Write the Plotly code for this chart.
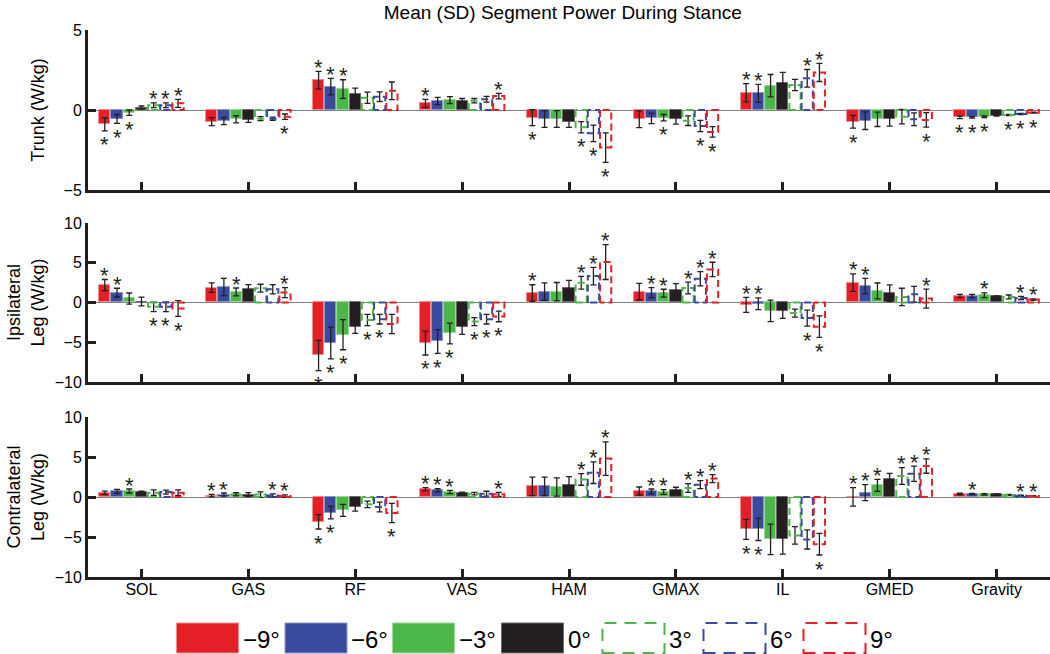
import plotly.graph_objects as go
from plotly.subplots import make_subplots

# ---------------- data ----------------
MUSCLES = ["SOL", "GAS", "RF", "VAS", "HAM", "GMAX", "IL", "GMED", "Gravity"]
ANGLES = ["−9°", "−6°", "−3°", "0°", "3°", "6°", "9°"]

# rows: -9, -6, -3, 0, 3, 6, 9 deg ; columns follow MUSCLES
TRUNK_MEAN = [
    [-0.90, -0.73, 1.87, 0.42, -0.48, -0.58, 1.08, -0.73, -0.46],
    [-0.56, -0.69, 1.46, 0.56, -0.56, -0.52, 1.04, -0.67, -0.46],
    [-0.17, -0.58, 1.31, 0.62, -0.56, -0.48, 1.52, -0.58, -0.42],
    [0.15, -0.62, 1.00, 0.58, -0.73, -0.58, 1.67, -0.56, -0.35],
    [0.30, -0.54, 0.77, 0.58, -1.08, -0.67, 1.56, -0.42, -0.31],
    [0.30, -0.54, 0.83, 0.67, -1.46, -1.00, 1.98, -0.58, -0.25],
    [0.42, -0.42, 1.20, 0.87, -2.35, -1.37, 2.35, -0.62, -0.17],
]
TRUNK_SD = [
    [0.40, 0.25, 0.55, 0.25, 0.50, 0.52, 0.57, 0.40, 0.08],
    [0.28, 0.23, 0.52, 0.23, 0.52, 0.33, 0.56, 0.55, 0.05],
    [0.17, 0.22, 0.58, 0.22, 0.52, 0.20, 0.70, 0.45, 0.05],
    [0.10, 0.15, 0.37, 0.14, 0.36, 0.30, 0.68, 0.45, 0.03],
    [0.15, 0.12, 0.35, 0.14, 0.35, 0.30, 0.35, 0.45, 0.04],
    [0.15, 0.10, 0.30, 0.18, 0.52, 0.35, 0.55, 0.40, 0.04],
    [0.25, 0.17, 0.55, 0.17, 0.92, 0.33, 0.57, 0.45, 0.03],
]
# 1 = asterisk above the error bar, -1 = below, 0 = none
TRUNK_SIG = [
    [-1, 0, 1, 1, -1, 0, 1, -1, -1],
    [-1, 0, 1, 0, 0, 0, 1, 0, -1],
    [-1, 0, 1, 0, 0, -1, 0, 0, -1],
    [0, 0, 0, 0, 0, 0, 0, 0, 0],
    [1, 0, 0, 0, -1, 0, 0, 0, -1],
    [1, 0, 0, 0, -1, -1, 1, 0, -1],
    [1, -1, 0, 1, -1, -1, 1, -1, -1],
]

IPSI_MEAN = [
    [2.20, 1.87, -6.67, -5.10, 1.20, 1.37, -0.30, 2.50, 0.83],
    [1.25, 1.96, -5.10, -4.90, 1.37, 1.25, -0.15, 2.08, 0.83],
    [0.50, 1.33, -4.04, -3.90, 1.37, 1.17, -1.04, 1.46, 0.92],
    [0.12, 1.75, -3.04, -3.10, 1.80, 1.54, -1.10, 1.17, 0.75],
    [-0.54, 1.80, -2.20, -2.40, 2.50, 1.83, -1.33, 0.70, 0.70],
    [-0.54, 1.67, -2.10, -2.10, 3.33, 3.00, -1.96, 1.04, 0.58],
    [-0.75, 1.25, -2.70, -1.75, 5.10, 4.17, -3.04, 0.50, 0.37],
]
IPSI_SD = [
    [0.70, 0.60, 1.90, 1.50, 1.04, 1.05, 0.95, 1.10, 0.20],
    [0.55, 1.08, 2.00, 1.50, 1.10, 0.62, 0.73, 0.95, 0.20],
    [0.70, 0.50, 1.90, 1.30, 1.15, 0.50, 1.35, 1.00, 0.30],
    [0.55, 0.50, 0.85, 0.90, 1.00, 0.83, 0.90, 1.05, 0.10],
    [0.60, 0.50, 0.70, 0.50, 0.80, 0.73, 0.50, 1.10, 0.25],
    [0.60, 0.58, 0.60, 0.60, 1.10, 0.90, 1.00, 1.00, 0.20],
    [1.00, 0.62, 1.20, 0.67, 2.20, 0.90, 1.35, 1.20, 0.10],
]
IPSI_SIG = [
    [1, 0, -1, -1, 1, 0, 1, 1, 0],
    [1, 0, -1, -1, 0, 1, 1, 1, 0],
    [0, 1, -1, -1, 0, 1, 0, 0, 1],
    [0, 0, 0, 0, 0, 0, 0, 0, 0],
    [-1, 0, -1, -1, 1, 1, 0, 0, 0],
    [-1, 0, -1, -1, 1, 1, -1, 0, 1],
    [-1, 1, 0, -1, 1, 1, -1, 1, 1],
]

CONTRA_MEAN = [
    [0.54, 0.17, -3.10, 0.96, 1.33, 0.75, -4.04, 0.02, 0.37],
    [0.70, 0.30, -1.96, 0.83, 1.33, 0.70, -4.04, 0.54, 0.37],
    [0.75, 0.33, -1.67, 0.62, 1.25, 0.62, -5.30, 1.46, 0.33],
    [0.62, 0.30, -1.25, 0.50, 1.54, 0.92, -5.30, 2.20, 0.33],
    [0.54, 0.30, -0.92, 0.42, 2.20, 1.12, -4.80, 2.62, 0.25],
    [0.62, 0.20, -1.25, 0.42, 3.04, 1.54, -5.30, 2.90, 0.17],
    [0.54, 0.12, -2.00, 0.33, 4.80, 2.30, -5.90, 3.87, 0.12],
]
CONTRA_SD = [
    [0.20, 0.15, 0.90, 0.20, 1.15, 0.50, 1.25, 1.15, 0.10],
    [0.25, 0.20, 0.78, 0.20, 1.15, 0.30, 1.40, 1.00, 0.08],
    [0.25, 0.20, 0.75, 0.20, 1.15, 0.30, 1.90, 0.75, 0.10],
    [0.10, 0.25, 0.52, 0.10, 1.00, 0.30, 1.85, 0.75, 0.05],
    [0.35, 0.35, 0.40, 0.15, 0.73, 0.55, 1.10, 1.04, 0.08],
    [0.25, 0.20, 0.60, 0.30, 1.35, 0.50, 1.20, 0.95, 0.05],
    [0.35, 0.15, 1.20, 0.25, 2.10, 0.50, 1.35, 0.90, 0.05],
]
CONTRA_SIG = [
    [0, 1, -1, 1, 0, 0, -1, 1, 0],
    [0, 1, -1, 1, 0, 1, -1, 1, 1],
    [1, 0, 0, 1, 0, 1, 0, 1, 0],
    [0, 0, 0, 0, 0, 0, 0, 0, 0],
    [0, 0, 0, 0, 1, 1, 0, 1, 0],
    [0, 1, 0, 0, 1, 1, 0, 1, 1],
    [0, 1, -1, 1, 1, 1, -1, 1, 1],
]

PANEL_TITLES = ["Trunk (W/kg)", "Ipsilateral<br>Leg (W/kg)", "Contralateral<br>Leg (W/kg)"]
TITLE_STANDOFF = [15, 6, 6]
Y_RANGES = [[-5, 5], [-10, 10], [-10, 10]]
Y_TICKS = [[-5, 0, 5], [-10, -5, 0, 5, 10], [-10, -5, 0, 5, 10]]

# ---------------- style ----------------
COLORS = ["#E41F26", "#3A4A9F", "#4CB748", "#231F20", "#4CB748", "#3A4A9F", "#E41F26"]
EDGE = ["#F08C90", "#8C96C8", "#9AD896", "#6E6A6B"]
FILLED = [True, True, True, True, False, False, False]
FONT = "Liberation Sans, Arial, Helvetica, sans-serif"
SLOT = 0.8 / 7
BAR_W = 0.105
DASH = "7px,4px"
STAR_SHIFT_UP = 4
STAR_SHIFT_DOWN = -14

panels = [
    (TRUNK_MEAN, TRUNK_SD, TRUNK_SIG),
    (IPSI_MEAN, IPSI_SD, IPSI_SIG),
    (CONTRA_MEAN, CONTRA_SD, CONTRA_SIG),
]

fig = make_subplots(rows=3, cols=1)
annotations = []

for r, (mean, sd, sig) in enumerate(panels, start=1):
    yref = "y" if r == 1 else f"y{r}"
    xref = "x" if r == 1 else f"x{r}"
    for k in range(7):
        xs = [i + 1 + (k - 3) * SLOT for i in range(len(MUSCLES))]
        fig.add_trace(go.Bar(
            x=xs, y=mean[k], width=BAR_W,
            marker=dict(color=COLORS[k] if FILLED[k] else "rgba(0,0,0,0)",
                        line=dict(color=EDGE[k] if FILLED[k] else "rgba(0,0,0,0)", width=1)),
            error_y=dict(type="data", array=sd[k], color="#231F20", thickness=1.3, width=3),
            showlegend=False, hoverinfo="skip",
        ), row=r, col=1)
        if not FILLED[k]:
            ox, oy = [], []
            for x, v in zip(xs, mean[k]):
                x0, x1 = x - BAR_W / 2, x + BAR_W / 2
                ox += [x0, x0, x1, x1, x0, None]
                oy += [0, v, v, 0, 0, None]
            fig.add_trace(go.Scatter(
                x=ox, y=oy, mode="lines",
                line=dict(color=COLORS[k], width=2, dash=DASH),
                showlegend=False, hoverinfo="skip",
            ), row=r, col=1)
        for x, v, s, g in zip(xs, mean[k], sd[k], sig[k]):
            if g != 0:
                annotations.append(dict(
                    x=x, y=v + g * s, xref=xref, yref=yref, text="*", showarrow=False,
                    xanchor="center", yanchor="middle",
                    yshift=STAR_SHIFT_UP if g > 0 else STAR_SHIFT_DOWN,
                    font=dict(family=FONT, size=22, color="#231F20"),
                ))

domains = [[0.7075, 1.0], [0.3565, 0.647], [0.0, 0.2925]]
axis_common = dict(
    showline=True, linewidth=3, linecolor="#231F20",
    ticks="inside", ticklen=8, tickwidth=3, tickcolor="#231F20",
    showgrid=False, automargin=False,
    tickfont=dict(family=FONT, size=16, color="black"),
)
for r in range(1, 4):
    fig.update_xaxes(
        range=[0.5, 9.5], tickmode="array", tickvals=list(range(1, 10)),
        ticktext=MUSCLES, showticklabels=(r == 3), zeroline=False,
        ticklabelstandoff=-4,
        row=r, col=1, **axis_common,
    )
    fig.update_yaxes(
        range=Y_RANGES[r - 1], tickmode="array", tickvals=Y_TICKS[r - 1],
        zeroline=True, zerolinecolor="#7F7F7F", zerolinewidth=1,
        domain=domains[r - 1],
        title=dict(text=PANEL_TITLES[r - 1], font=dict(family=FONT, size=18, color="black"),
                   standoff=TITLE_STANDOFF[r - 1]),
        row=r, col=1, **axis_common,
    )

# ---------------- legend (drawn manually) ----------------
LEG_X = [176.5, 285, 392.5, 501.5, 602.5, 703.5, 803.5]
LEG_W = 62
PLOT_L, PLOT_R, PLOT_T, PLOT_B = 88, 1050, 30, 577
W_PX, H_PX = 1050, 654


def px_to_paper_x(px):
    return (px - PLOT_L) / (PLOT_R - PLOT_L)


def px_to_paper_y(py):
    return (PLOT_B - py) / (PLOT_B - PLOT_T)


shapes = []
for k in range(7):
    x0 = px_to_paper_x(LEG_X[k])
    x1 = px_to_paper_x(LEG_X[k] + LEG_W)
    y0 = px_to_paper_y(653)
    y1 = px_to_paper_y(623)
    if FILLED[k]:
        shapes.append(dict(type="rect", xref="paper", yref="paper", x0=x0, x1=x1, y0=y0, y1=y1,
                           fillcolor=COLORS[k], line=dict(color=EDGE[k], width=1), layer="above"))
    else:
        shapes.append(dict(type="rect", xref="paper", yref="paper", x0=x0, x1=x1, y0=y0, y1=y1,
                           fillcolor="rgba(0,0,0,0)", line=dict(color=COLORS[k], width=2, dash="12px,8px"),
                           layer="above"))
    annotations.append(dict(
        xref="paper", yref="paper", x=px_to_paper_x(LEG_X[k] + LEG_W + 2), y=px_to_paper_y(640),
        xanchor="left", yanchor="middle", showarrow=False, text=ANGLES[k],
        font=dict(family=FONT, size=24, color="black"),
    ))

fig.update_layout(
    width=W_PX, height=H_PX,
    margin=dict(l=PLOT_L, r=W_PX - PLOT_R, t=PLOT_T, b=H_PX - PLOT_B, autoexpand=False),
    paper_bgcolor="white", plot_bgcolor="white",
    barmode="overlay", bargap=0,
    title=dict(text="Mean (SD) Segment Power During Stance", x=0.536, xanchor="center",
               y=1 - 12 / H_PX, yref="container", yanchor="middle",
               font=dict(family=FONT, size=19, color="black")),
    shapes=shapes, annotations=annotations,
    showlegend=False,
)

fig.write_html(
    "out.html",
    config={"displayModeBar": False},
    post_script="document.body.style.margin='0';document.body.style.overflow='hidden';",
)
